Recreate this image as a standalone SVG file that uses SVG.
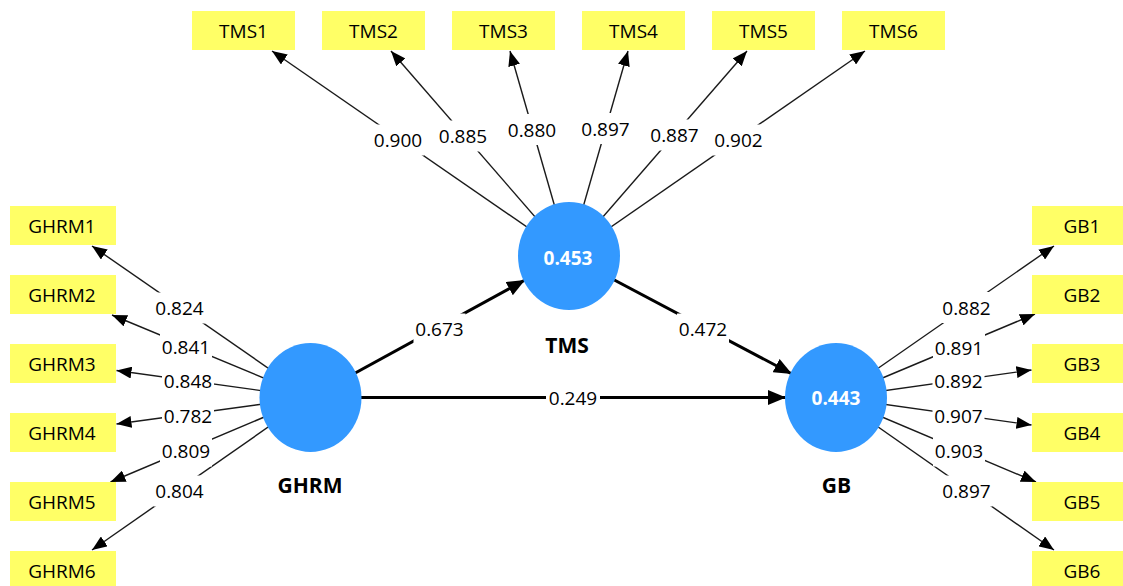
<svg xmlns="http://www.w3.org/2000/svg" width="1123" height="586" viewBox="0 0 1123 586">
<style>
text{font-family:"Open Sans","Noto Sans","Liberation Sans",sans-serif;text-anchor:middle;fill:#000}
.ind rect{fill:#ffff66}
.ind text{font-size:19px}
.lv ellipse{fill:#3399ff}
.lv .val{font-size:19px;font-weight:bold;fill:#fff}
.lv .name{font-size:21px;font-weight:bold}
.thin{stroke:#1a1a1a;stroke-width:1.4;fill:none;marker-end:url(#ah)}
.thick{stroke:#000;stroke-width:3;fill:none;marker-end:url(#ahb)}
.lbl rect{fill:#fff}
.lbl text{font-size:19px}
</style>
<defs>
<marker id="ah" markerUnits="userSpaceOnUse" markerWidth="15" markerHeight="12" refX="15" refY="6" orient="auto"><path d="M0,0 L15,6 L0,12 z" fill="#000"/></marker>
<marker id="ahb" markerUnits="userSpaceOnUse" markerWidth="18" markerHeight="15" refX="18" refY="7.5" orient="auto"><path d="M0,0 L18,7.5 L0,15 z" fill="#000"/></marker>
</defs>
<rect width="1123" height="586" fill="#fff"/>
<g id="connectors">
<line class="thin" x1="569" y1="256" x2="272" y2="51"/>
<line class="thin" x1="569" y1="256" x2="391" y2="51"/>
<line class="thin" x1="569" y1="256" x2="510" y2="51"/>
<line class="thin" x1="569" y1="256" x2="628" y2="51"/>
<line class="thin" x1="569" y1="256" x2="747" y2="51"/>
<line class="thin" x1="569" y1="256" x2="865" y2="51"/>
<line class="thin" x1="310.5" y1="397.5" x2="92" y2="246"/>
<line class="thin" x1="310.5" y1="397.5" x2="112" y2="315"/>
<line class="thin" x1="310.5" y1="397.5" x2="116.5" y2="370.5"/>
<line class="thin" x1="310.5" y1="397.5" x2="116.5" y2="424"/>
<line class="thin" x1="310.5" y1="397.5" x2="110.5" y2="482"/>
<line class="thin" x1="310.5" y1="397.5" x2="92" y2="550"/>
<line class="thin" x1="836" y1="397.5" x2="1054" y2="246"/>
<line class="thin" x1="836" y1="397.5" x2="1035" y2="314"/>
<line class="thin" x1="836" y1="397.5" x2="1031.5" y2="370"/>
<line class="thin" x1="836" y1="397.5" x2="1031.5" y2="425"/>
<line class="thin" x1="836" y1="397.5" x2="1036" y2="482"/>
<line class="thin" x1="836" y1="397.5" x2="1054" y2="550"/>
<line class="thick" x1="310.5" y1="397.5" x2="525" y2="280"/>
<line class="thick" x1="310.5" y1="397.5" x2="786" y2="397.5"/>
<line class="thick" x1="569" y1="256" x2="792" y2="374"/>
<g class="lbl">
<rect x="372" y="124.5" width="52" height="31"/><text x="398" y="147">0.900</text>
<rect x="437" y="120.5" width="52" height="31"/><text x="463" y="143">0.885</text>
<rect x="506" y="114" width="52" height="31"/><text x="532" y="136.5">0.880</text>
<rect x="579.5" y="113" width="52" height="31"/><text x="605.5" y="135.5">0.897</text>
<rect x="648.5" y="119.5" width="52" height="31"/><text x="674.5" y="142">0.887</text>
<rect x="712.5" y="124.5" width="52" height="31"/><text x="738.5" y="147">0.902</text>
<rect x="153.5" y="292.5" width="52" height="31"/><text x="179.5" y="315">0.824</text>
<rect x="160" y="331.5" width="52" height="31"/><text x="186" y="354">0.841</text>
<rect x="162" y="366" width="52" height="31"/><text x="188" y="388">0.848</text>
<rect x="162" y="400.5" width="52" height="31"/><text x="188" y="423">0.782</text>
<rect x="160" y="435.5" width="52" height="31"/><text x="186" y="458">0.809</text>
<rect x="153.5" y="475.5" width="52" height="31"/><text x="179.5" y="498">0.804</text>
<rect x="940.5" y="292" width="52" height="31"/><text x="966.5" y="314.5">0.882</text>
<rect x="933" y="332.5" width="52" height="31"/><text x="959" y="355">0.891</text>
<rect x="932.5" y="365.5" width="52" height="31"/><text x="958.5" y="388">0.892</text>
<rect x="932.5" y="400.5" width="52" height="31"/><text x="958.5" y="423">0.907</text>
<rect x="933" y="435.5" width="52" height="31"/><text x="959" y="458">0.903</text>
<rect x="940.5" y="475.5" width="52" height="31"/><text x="966.5" y="498">0.897</text>
<rect x="413.5" y="313.5" width="52" height="31"/><text x="439.5" y="336">0.673</text>
<rect x="677" y="313.5" width="52" height="31"/><text x="703" y="336">0.472</text>
<rect x="546" y="382.5" width="54" height="31"/><text x="573" y="405">0.249</text>
</g>
</g>
<g id="TMS1" class="ind"><rect x="192" y="11" width="103" height="39"/><text x="243.5" y="37.5">TMS1</text></g>
<g id="TMS2" class="ind"><rect x="322" y="11" width="103" height="39"/><text x="373.5" y="37.5">TMS2</text></g>
<g id="TMS3" class="ind"><rect x="452" y="11" width="103" height="39"/><text x="503.5" y="37.5">TMS3</text></g>
<g id="TMS4" class="ind"><rect x="582" y="11" width="103" height="39"/><text x="633.5" y="37.5">TMS4</text></g>
<g id="TMS5" class="ind"><rect x="712" y="11" width="103" height="39"/><text x="763.5" y="37.5">TMS5</text></g>
<g id="TMS6" class="ind"><rect x="842" y="11" width="103" height="39"/><text x="893.5" y="37.5">TMS6</text></g>
<g id="GHRM1" class="ind"><rect x="10" y="206" width="106" height="39"/><text x="62" y="232.5">GHRM1</text></g>
<g id="GHRM2" class="ind"><rect x="10" y="275" width="106" height="39"/><text x="62" y="301.5">GHRM2</text></g>
<g id="GHRM3" class="ind"><rect x="10" y="344" width="106" height="39"/><text x="62" y="370.5">GHRM3</text></g>
<g id="GHRM4" class="ind"><rect x="10" y="413" width="106" height="39"/><text x="62" y="439.5">GHRM4</text></g>
<g id="GHRM5" class="ind"><rect x="10" y="482" width="106" height="39"/><text x="62" y="508.5">GHRM5</text></g>
<g id="GHRM6" class="ind"><rect x="10" y="551" width="106" height="39"/><text x="62" y="577.5">GHRM6</text></g>
<g id="GB1" class="ind"><rect x="1032" y="206" width="106" height="39"/><text x="1082" y="232.5">GB1</text></g>
<g id="GB2" class="ind"><rect x="1032" y="275" width="106" height="39"/><text x="1082" y="301.5">GB2</text></g>
<g id="GB3" class="ind"><rect x="1032" y="344" width="106" height="39"/><text x="1082" y="370.5">GB3</text></g>
<g id="GB4" class="ind"><rect x="1032" y="413" width="106" height="39"/><text x="1082" y="439.5">GB4</text></g>
<g id="GB5" class="ind"><rect x="1032" y="482" width="106" height="39"/><text x="1082" y="508.5">GB5</text></g>
<g id="GB6" class="ind"><rect x="1032" y="551" width="106" height="39"/><text x="1082" y="577.5">GB6</text></g>
<g id="TMS" class="lv"><ellipse cx="569" cy="256" rx="51" ry="54"/><text class="val" x="568" y="265">0.453</text><text class="name" x="567" y="353">TMS</text></g>
<g id="GHRM" class="lv"><ellipse cx="310.5" cy="397.5" rx="51" ry="54.5"/><text class="name" x="310" y="493">GHRM</text></g>
<g id="GB" class="lv"><ellipse cx="836" cy="397.5" rx="51" ry="54.5"/><text class="val" x="836" y="405">0.443</text><text class="name" x="836.5" y="493">GB</text></g>
</svg>
